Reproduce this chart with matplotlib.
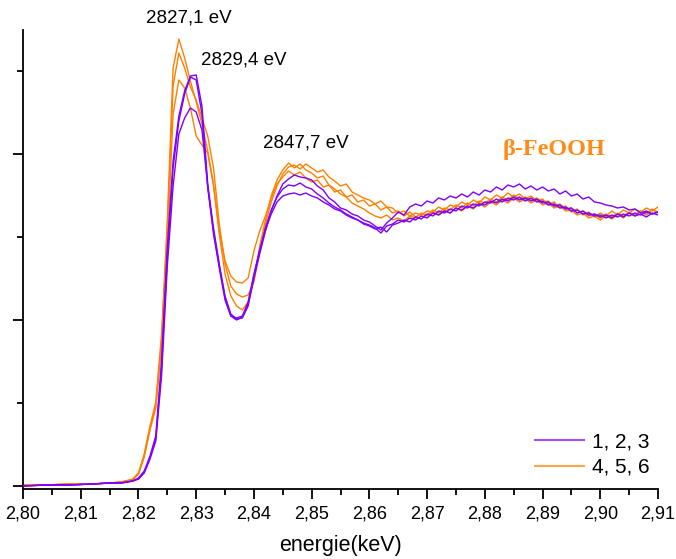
import matplotlib
matplotlib.use("Agg")
import matplotlib.pyplot as plt
from matplotlib.ticker import MultipleLocator, FuncFormatter

plt.rcParams['font.family'] = ['Liberation Sans', 'DejaVu Sans']

# energy grid (keV)
energy = [2.800, 2.804, 2.808, 2.812, 2.815, 2.817, 2.819,
          2.820, 2.821, 2.822, 2.823, 2.824, 2.825, 2.826, 2.827, 2.828, 2.829,
          2.830, 2.831, 2.832, 2.833, 2.834, 2.835, 2.836, 2.837, 2.838, 2.839,
          2.840, 2.841, 2.842, 2.843, 2.844, 2.845, 2.846, 2.847, 2.848, 2.849,
          2.850, 2.851, 2.852, 2.853, 2.854, 2.855, 2.856, 2.857, 2.858, 2.859,
          2.860, 2.861, 2.862, 2.863, 2.864, 2.865, 2.866, 2.867, 2.868, 2.869,
          2.870, 2.871, 2.872, 2.873, 2.874, 2.875, 2.876, 2.877, 2.878, 2.879,
          2.880, 2.881, 2.882, 2.883, 2.884, 2.885, 2.886, 2.887, 2.888, 2.889,
          2.890, 2.891, 2.892, 2.893, 2.894, 2.895, 2.896, 2.897, 2.898, 2.899,
          2.900, 2.901, 2.902, 2.903, 2.904, 2.905, 2.906, 2.907, 2.908, 2.909,
          2.910]

# intensities (a.u.) - samples 1, 2, 3 (violet)
s1 = [0, 1, 1, 2, 3, 3, 5,
      8, 15, 30, 50, 125, 238, 325, 370, 395, 410,
      411, 380, 302, 258, 222, 190, 172, 167, 168, 180,
      208, 232, 255, 275, 290, 302, 307, 311, 309, 308,
      306, 300, 296, 288, 284, 278, 276, 272, 270, 266,
      264, 260, 256, 263, 268, 274, 271, 279, 282, 280,
      285, 283, 288, 286, 290, 288, 292, 289, 294, 291,
      296, 294, 299, 296, 301, 299, 302, 297, 300, 296,
      299, 295, 297, 292, 295, 290, 292, 287, 289, 284,
      283, 281, 280, 278, 279, 276, 277, 273, 275, 272,
      274]
s2 = [0, 1, 1, 2, 3, 3, 5,
      7, 14, 28, 47, 118, 230, 318, 365, 392, 409,
      406, 372, 298, 255, 220, 188, 170, 166, 169, 182,
      210, 235, 258, 276, 289, 297, 301, 300, 303, 299,
      297, 292, 288, 283, 279, 276, 272, 269, 266, 263,
      261, 258, 253, 260, 262, 266, 264, 268, 266, 270,
      268, 273, 271, 275, 273, 278, 276, 280, 278, 282,
      281, 285, 283, 287, 285, 289, 286, 288, 285, 287,
      283, 284, 280, 281, 277, 278, 273, 275, 271, 272,
      269, 271, 268, 272, 269, 273, 270, 272, 269, 273,
      271]
s3 = [0, 1, 1, 2, 3, 3, 5,
      7, 13, 27, 45, 110, 220, 300, 352, 368, 378,
      374, 356, 300, 252, 218, 186, 170, 168, 170, 184,
      212, 236, 256, 272, 284, 290, 292, 293, 291, 293,
      290, 288, 284, 281, 277, 275, 271, 268, 266, 262,
      260, 257, 259, 254, 261, 263, 266, 264, 269, 267,
      272, 270, 275, 273, 277, 275, 280, 278, 282, 280,
      284, 283, 287, 284, 288, 286, 289, 285, 288, 284,
      285, 281, 282, 278, 279, 275, 276, 272, 273, 270,
      271, 268, 271, 269, 272, 270, 273, 271, 274, 272,
      274]

# samples 4, 5, 6 (orange)
s4 = [1, 1, 2, 2, 3, 4, 6,
      12, 30, 58, 80, 145, 265, 418, 447, 428, 405,
      384, 362, 335, 302, 252, 212, 190, 180, 176, 184,
      206, 240, 266, 290, 306, 316, 323, 318, 322, 316,
      313, 308, 310, 301, 297, 292, 289, 283, 280, 277,
      273, 270, 268, 271, 266, 268, 265, 270, 268, 273,
      271, 276, 273, 278, 276, 281, 278, 283, 280, 285,
      283, 287, 284, 289, 286, 291, 287, 289, 286, 288,
      284, 285, 280, 282, 277, 278, 273, 275, 270, 272,
      268, 272, 269, 273, 270, 274, 271, 275, 272, 276,
      274]
s5 = [1, 1, 2, 2, 3, 4, 7,
      13, 32, 60, 84, 152, 258, 400, 433, 418, 399,
      386, 368, 350, 318, 262, 222, 200, 192, 189, 191,
      204, 234, 262, 284, 300, 312, 319, 321, 317, 322,
      318, 314, 316, 309, 305, 300, 302, 294, 291, 288,
      286, 282, 285, 279, 278, 273, 275, 270, 273, 271,
      275, 274, 279, 276, 281, 279, 284, 281, 286, 283,
      289, 286, 291, 288, 293, 289, 292, 287, 290, 285,
      287, 281, 284, 278, 280, 274, 277, 271, 274, 269,
      273, 270, 275, 271, 276, 273, 277, 274, 278, 275,
      279]
s6 = [1, 1, 2, 2, 3, 4, 6,
      12, 29, 56, 78, 140, 240, 372, 406, 398, 378,
      350, 341, 333, 300, 256, 225, 210, 204, 203, 208,
      235, 255, 270, 288, 302, 309, 315, 311, 314, 308,
      304, 306, 299, 301, 294, 296, 289, 291, 284, 286,
      280, 282, 276, 279, 273, 275, 270, 274, 269, 272,
      270, 274, 271, 276, 273, 278, 275, 280, 277, 283,
      279, 284, 281, 286, 283, 288, 284, 287, 283, 286,
      281, 283, 278, 280, 275, 276, 271, 273, 268, 270,
      266, 270, 267, 272, 268, 273, 270, 275, 271, 277,
      273]

violet_series = [s1, s2, s3]
orange_series = [s4, s5, s6]
legend_labels = ["1, 2, 3", "4, 5, 6"]
annotations = [("2827,1 eV", 2.8288, 468), ("2829,4 eV", 2.8383, 426), ("2847,7 eV", 2.8490, 343)]

VIOLET = "#7f00ff"
ORANGE = "#ff8000"

fig = plt.figure(figsize=(6.76, 5.59), dpi=100)
ax = fig.add_axes([23 / 676, 1 - 489 / 559, (658 - 23) / 676, (489 - 30) / 559])

for i, s in enumerate(violet_series):
    ax.plot(energy, s, color=VIOLET, lw=1.0, label=legend_labels[0] if i == 0 else None, zorder=3)
for i, s in enumerate(orange_series):
    ax.plot(energy, s, color=ORANGE, lw=1.0, label=legend_labels[1] if i == 0 else None, zorder=2)

ax.set_xlim(2.80, 2.91)
ax.set_ylim(-3, 456)
ax.xaxis.set_major_locator(MultipleLocator(0.01))
ax.xaxis.set_minor_locator(MultipleLocator(0.005))
ax.xaxis.set_major_formatter(FuncFormatter(lambda v, p: f"{v:.2f}".replace('.', ',')))
ax.set_yticks([0, 166, 332])
ax.set_yticks([83, 249, 415], minor=True)
ax.set_yticklabels([])

for side in ['top', 'right']:
    ax.spines[side].set_visible(False)
for side in ['left', 'bottom']:
    ax.spines[side].set_linewidth(1.3)

ax.tick_params(axis='both', which='major', direction='out', length=7, width=1.3, labelsize=13, pad=5)
ax.tick_params(axis='both', which='minor', direction='out', length=4, width=1.3)

ax.set_xlabel("energie(keV)", fontsize=15.5, labelpad=9)

for txt, xv, yv in annotations:
    ax.text(xv, yv, txt, ha='center', va='center', fontsize=13.5, clip_on=False)

ax.text(2.8920, 337, "β-FeOOH", ha='center', va='center', fontsize=17.5, color="#ff8c1a",
        fontweight='bold', family=['Liberation Serif', 'DejaVu Serif'])

leg = ax.legend(loc='lower right', bbox_to_anchor=(1.0, 0.008), frameon=False, fontsize=15,
                handlelength=2.35, handletextpad=0.38, labelspacing=0.3, borderpad=0.2,
                borderaxespad=0.2)
for line in leg.get_lines():
    line.set_linewidth(1.5)
    line.set_alpha(0.7)

fig.savefig("out.png", dpi=100)
